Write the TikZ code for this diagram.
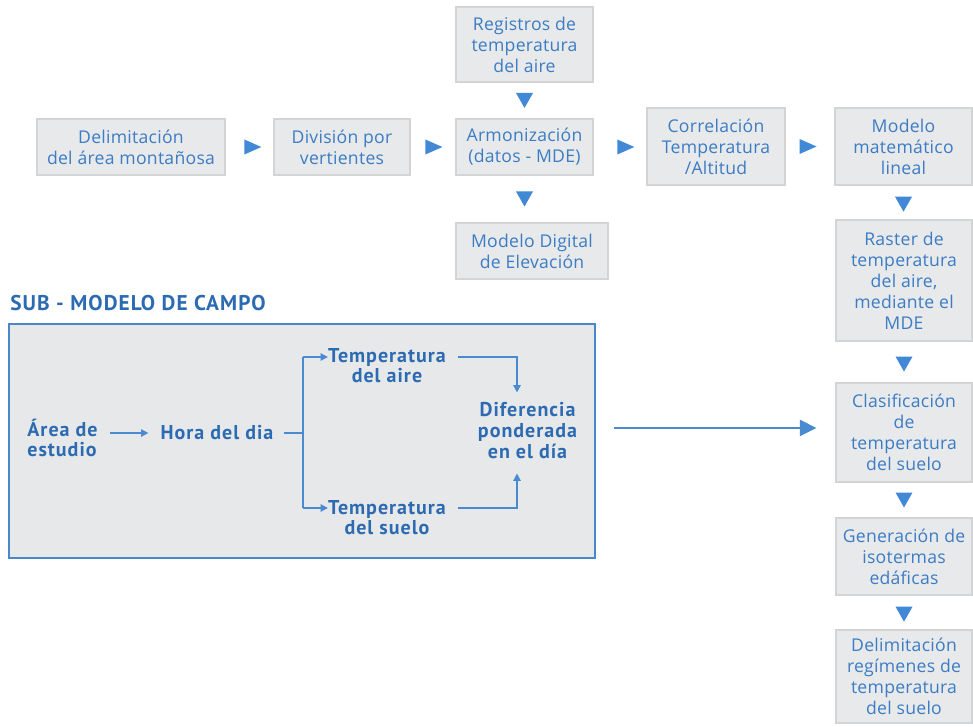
\documentclass[tikz,border=0pt]{standalone}
\usepackage{fontspec}
\setmainfont{Open Sans}
\newfontfamily\subfont{PT Sans}[LetterSpace=5]
\newfontfamily\boxfont{Open Sans}[LetterSpace=1.5]
\usetikzlibrary{arrows.meta,calc}
\newlength\pxu \setlength\pxu{0.75pt}
\definecolor{boxfill}{HTML}{E8E9EA}
\definecolor{boxdraw}{HTML}{D3D4D5}
\definecolor{boxtext}{HTML}{3B7CC4}
\definecolor{tricol}{HTML}{4189D6}
\definecolor{subtext}{HTML}{2C6BB2}
\definecolor{framecol}{HTML}{4A87C9}
\definecolor{framefill}{HTML}{E7E8E9}
\definecolor{linecol}{HTML}{4A8AD0}
\tikzset{
  flow/.style={draw=boxdraw, fill=boxfill, line width=0.8pt, text=boxtext, align=center,
    inner sep=0pt, font=\boxfont\fontsize{13.2}{15.75}\selectfont},
  subtxt/.style={text=subtext, font=\subfont\bfseries\fontsize{15}{15}\selectfont, inner sep=0pt, align=center},
  subline/.style={draw=linecol, line width=1.1pt},
  subarr/.style={subline, -{Triangle[length=5.5pt,width=5.5pt]}},
  bigarr/.style={draw=linecol, line width=1.9pt, -{Triangle[length=12.5pt,width=12pt]}},
  rtri/.pic={\fill[tricol] (-8.5,-7.5) -- (8.5,0) -- (-8.5,7.5) -- cycle;},
  dtri/.pic={\fill[tricol] (-8.5,-7.5) -- (0,7.5) -- (8.5,-7.5) -- cycle;}
}
\begin{document}
\begin{tikzpicture}[x=0.75pt,y=-0.75pt]
\useasboundingbox[fill=white] (0,0) rectangle (973,727);

% main flow boxes
\node[flow, minimum width=188\pxu, minimum height=56\pxu] (delim) at (131,147) {Delimitación\\del área montañosa};
\node[flow, minimum width=136\pxu, minimum height=56\pxu] (divis) at (342,147) {División por\\vertientes};
\node[flow, minimum width=137\pxu, minimum height=75\pxu] (regis) at (524.5,44.5) {Registros de\\temperatura\\del aire};
\node[flow, minimum width=137\pxu, minimum height=56\pxu] (armon) at (524.5,147) {Armonización\\(datos - MDE)};
\node[flow, minimum width=152\pxu, minimum height=56\pxu] (mde) at (532,251) {Modelo Digital\\de Elevación};
\node[flow, minimum width=138\pxu, minimum height=77\pxu] (corr) at (716,146.5) {Correlación\\Temperatura\\/Altitud};
\node[flow, minimum width=137\pxu, minimum height=77\pxu] (modmat) at (903.5,146.5) {Modelo\\matemático\\lineal};
\node[flow, minimum width=136\pxu, minimum height=121\pxu] (raster) at (904,280.5) {Raster de\\temperatura\\del aire,\\mediante el\\MDE};
\node[flow, minimum width=136\pxu, minimum height=99\pxu] (clasif) at (904,432.5) {Clasificación\\de\\temperatura\\del suelo};
\node[flow, minimum width=136\pxu, minimum height=77\pxu] (gen) at (904,556.5) {Generación de\\isotermas\\edáficas};
\node[flow, minimum width=136\pxu, minimum height=93\pxu] (dreg) at (904,676.5) {Delimitación\\regímenes de\\temperatura\\del suelo};

% triangle connectors
\path (delim.east) -- (divis.west) coordinate[pos=0.57] (t1);
\path (divis.east) -- (armon.west) coordinate[pos=0.52] (t2);
\path (armon.east) -- (corr.west |- armon.east) coordinate[pos=0.61] (t3);
\path (corr.east) -- (modmat.west) coordinate[pos=0.46] (t4);
\path (regis.south) -- (armon.north) coordinate[midway] (t5);
\path (armon.south) -- (armon.south |- mde.north) coordinate[midway] (t6);
\path (modmat.south) -- (modmat.south |- raster.north) coordinate[pos=0.55] (t7);
\path (raster.south) -- (clasif.north) coordinate[pos=0.55] (t8);
\path (clasif.south) -- (gen.north) coordinate[midway] (t9);
\path (gen.south) -- (dreg.north) coordinate[pos=0.55] (t10);
\pic at (t1) {rtri};
\pic at (t2) {rtri};
\pic at (t3) {rtri};
\pic at (t4) {rtri};
\pic at (t5) {dtri};
\pic at (t6) {dtri};
\pic at (t7) {dtri};
\pic at (t8) {dtri};
\pic at (t9) {dtri};
\pic at (t10) {dtri};

% sub-model
\node[anchor=west, text=subtext, font=\subfont\bfseries\fontsize{16}{18}\selectfont, inner sep=0pt] (title) at (10,303.5) {SUB - MODELO DE CAMPO};
\node[draw=framecol, line width=1.8pt, fill=framefill, minimum width=586\pxu, minimum height=234\pxu,
  inner sep=0pt, anchor=north west] (sub) at (8,323) {};

\node[subtxt, align=left] (area) at (62.5,437.5) {Área de\\estudio};
\node[subtxt] (hora) at (217,433) {Hora del dia};
\node[subtxt] (taire) at (387,366) {Temperatura\\del aire};
\node[subtxt] (tsuelo) at (387,518) {Temperatura\\del suelo};
\node[subtxt, font=\subfont\bfseries\fontsize{15}{15.75}\selectfont] (dif) at (527.5,431) {Diferencia\\ponderada\\en el día};

\coordinate (br) at (303,433);
\coordinate (ja) at (303,357);
\coordinate (js) at (303,508);
\coordinate (dv) at (517,431);

\draw[subarr, shorten <=9pt, shorten >=9pt] (area.east |- hora.west) -- (hora.west);
\draw[subline, shorten <=7.5pt] (hora.east) -- (br);
\draw[subline] (ja) -- (js);
\draw[subarr] (ja) -- (ja -| taire.west);
\draw[subarr] (js) -- (js -| tsuelo.west);
\draw[subarr, shorten <=9pt, shorten >=7.5pt] (ja -| taire.east) -| (dv |- dif.north);
\draw[subarr, shorten <=9pt, shorten >=10.5pt] (js -| tsuelo.east) -| (dv |- dif.south);

% big arrow to classification
\coordinate (cl) at ([yshift=3.4pt]clasif.west);
\draw[bigarr, shorten <=13.5pt, shorten >=14.25pt] (sub.east |- cl) -- (cl);
\end{tikzpicture}
\end{document}
